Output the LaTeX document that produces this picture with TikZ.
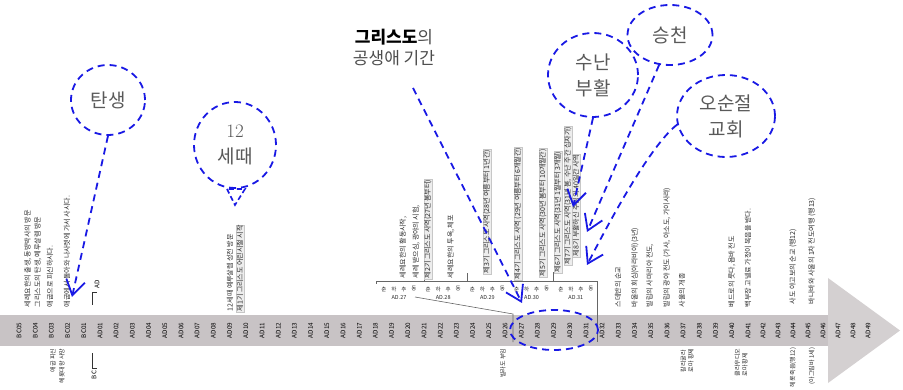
\documentclass[tikz,border=0pt]{standalone}
\usepackage{fontspec}
\newfontfamily\kr{Noto Sans CJK KR}
\usetikzlibrary{arrows.meta,shapes.geometric}
\definecolor{cblue}{RGB}{25,25,228}
\definecolor{bandgray}{RGB}{200,195,197}
\definecolor{headgray}{RGB}{212,208,209}
\definecolor{txtgray}{RGB}{40,40,40}
\begin{document}
\begin{tikzpicture}[x=1pt,y=-1pt,
  col/.style={font=\kr\fontsize{7}{8}\selectfont, text=txtgray, inner sep=0.6pt, rotate=90},
  up/.style={col, anchor=west},
  dn/.style={col, font=\kr\fontsize{6}{7.5}\selectfont, anchor=east, align=left},
  boxed/.style={fill=black!7, draw=black!22, line width=0.3pt},
  tk/.style={font=\kr\fontsize{6.3}{7}\selectfont, text=black, rotate=90, inner sep=0pt},
  small/.style={font=\kr\fontsize{5.5}{6}\selectfont, text=txtgray, inner sep=0pt},
  bub/.style={draw=cblue, line width=1.8pt, dash pattern=on 7pt off 5pt, ellipse, inner sep=0pt,
    font=\kr\fontsize{19}{26}\selectfont, text=black!65, align=center},
  lead/.style={draw=cblue, line width=1.8pt, dash pattern=on 7pt off 5pt,
    -{Straight Barb[length=15pt,width=19pt]}},
  thinl/.style={draw=black!60, line width=0.6pt}
]
\useasboundingbox (0,0) rectangle (903,390);
\clip (0,0) rectangle (903,390);

% ---- timeline arrow
\fill[bandgray] (0,315) rectangle (829,346);
\fill[headgray] (828,278) -- (900,330.5) -- (828,383) -- cycle;

\foreach \lab [count=\k from 0] in {BC05,BC04,BC03,BC02,BC01,AD01,AD02,AD03,AD04,AD05,AD06,AD07,AD08,AD09,AD10,AD11,AD12,AD13,AD14,AD15,AD16,AD17,AD18,AD19,AD20,AD21,AD22,AD23,AD24,AD25,AD26,AD27,AD28,AD29,AD30,AD31,AD32,AD33,AD34,AD35,AD36,AD37,AD38,AD39,AD40,AD41,AD42,AD43,AD44,AD45,AD46,AD47,AD48,AD49}{
  \pgfmathsetmacro\xx{\k<46 ? 19+16.2*\k : 748+15*(\k-45)}
  \node[tk] (t\k) at (\xx,330.5) {\lab};
}

% ---- BC / AD markers
\node[tk] (admark) at (97,284) {AD};
\draw[black!80, line width=0.9pt] (92,305) -- (92,292) -- (97,292);
\draw[black!80, line width=0.9pt] (92,353) -- (92,368) -- (97,368);
\node[tk] (bcmark) at (94,375) {BC};

% ---- early life texts
\node[up] (e1) at (28,308) {세례요한의 출생, 동방박사의 방문};
\node[up] (e2) at (38,308) {그리스도의 탄생, 예루살렘 방문};
\node[up] (e3) at (50,308) {애굽으로 피신하시다.};
\node[up] (e4) at (67,308) {애굽에서 돌아와 나사렛에 가서 사시다.};
\node[dn] (b1) at (53,348) {애굽 피신};
\node[dn] (b2) at (62,348) {헤롯대왕 사망};
\node[up] (e5) at (230,312) {12세때 예루살렘 성전 방문};
\node[up,boxed] (e6) at (240,312) {제1기 그리스도 어린시절 시작};

% ---- detail of public ministry
\coordinate (brL) at (376,281);
\coordinate (brR) at (597,281);
\draw[thinl] (376,284) -- (brL) -- (brR) -- (597,342);
\draw[thinl] (424,281) -- (424,273);
\draw[thinl] (467,281) -- (467,273);
\draw[thinl] (553,281) -- (553,272);
\foreach \j/\yr in {0/27,1/28,2/29,3/30,4/31}{
  \pgfmathsetmacro\cc{399+44.2*\j}
  \node[small] (yr\yr) at (\cc,298) {AD.\yr};
  \foreach \ch [count=\m] in {춘,하,추,동}
    \node[small] (s\yr\m) at (\cc+10*\m-25,289) {\ch};
}
\coordinate (zA) at (415,297);
\coordinate (zB) at (513,314);
\coordinate (zC) at (513,342);
\draw[thinl] (zA) -- (zB) -- (zC);

\node[up] (d1) at (403,279) {세례요한의 활동시작,};
\node[up] (d2) at (416,279) {세례 받으심, 광야의 시험,};
\node[up,boxed] (d3) at (428,279) {제2기 그리스도 사역(27년 봄부터)};
\node[up] (d4) at (451,279) {세례요한의 투옥, 체포};
\node[up,boxed] (d5) at (487,274) {제3기 그리스도 사역(28년 여름부터 1년간)};
\node[up,boxed] (d6) at (518,280) {제4기 그리스도 사역 (29년 여름부터 6개월간)};
\node[up,boxed] (d7) at (543,277) {제5기 그리스도 사역(30년 봄부터 10개월간)};
\node[up,boxed] (d8) at (558,273) {제6기 그리스도 사역(31년 1월부터 3개월)};
\node[up,boxed] (d9) at (568,265) {제7기 그리스도 사역(31년 봄, 수난 주간 십자가)};
\node[up,boxed] (d10) at (576,257) {제8기 부활하신 주님의 40일간 사역};
\node[dn] (b3) at (503,348) {빌라도 부임};

% ---- apostolic age
\node[up] (a1) at (618,308) {스데반의 순교};
\node[up] (a2) at (635,308) {바울의 회심(아라비아)(3년)};
\node[up] (a3) at (650,308) {빌립의 사마리아 전도,};
\node[up] (a4) at (667,308) {빌립의 광야 전도 (가사, 아소도, 가이사랴)};
\node[up] (a5) at (682,308) {사울의 개종};
\node[up] (a6) at (732,308) {베드로의 룻다, 욥바 전도};
\node[up] (a7) at (748,308) {백부장 고넬료 가정이 복음을 받다.};
\node[up] (a8) at (793,305) {사도 야고보의 순교 (행12)};
\node[up] (a9) at (812,305) {바나바와 사울의 1차 전도여행 (행13)};
\node[dn] (b4) at (687,348) {칼리굴라\\로마 황제};
\node[dn] (b5) at (741,348) {클라우디오\\로마 황제};
\node[dn] (b6) at (793,347) {헤롯 죽음(행12)};
\node[dn] (b7) at (812,347) {(아그립바 1세)};

% ---- callouts
\node[bub, minimum width=74, minimum height=70] (tan) at (108,100) {탄생};
\coordinate (tanT) at (72,297);
\draw[lead] (tan.south) -- (tanT);

\node[bub, minimum width=82, minimum height=86] (twelve) at (235,145) {{\rmfamily 12}\\세때};
\draw[cblue, line width=1.6pt, dash pattern=on 5pt off 3pt] (227,189) -- (235,205) -- (245,189) -- cycle;

\node[font=\kr\fontsize{17}{21}\selectfont, text=black!70, align=center] (gong) at (394,47)
  {{\color{black}\bfseries 그리스도}의\\공생애 기간};
\coordinate (gongS) at (413,88);
\coordinate (gongT) at (522,303);
\draw[lead] (gongS) -- (gongT);
\node[bub, minimum width=88, minimum height=40] (span) at (554,330) {};

\node[bub, minimum width=90, minimum height=84] (sunan) at (593,75) {수난\\부활};
\coordinate (sunT) at (573,207);
\draw[lead] (sunan.south) -- (sunT);

\node[bub, minimum width=85, minimum height=60] (seung) at (670,35) {승천};
\coordinate (seungT) at (587,232);
\draw[lead] (seung.250) -- (seungT);

\node[bub, minimum width=98, minimum height=82] (osun) at (726,116) {오순절\\교회};
\coordinate (osunT) at (587,265);
\draw[lead] (osun.190) .. controls (648,147) and (602,236) .. (osunT);
\end{tikzpicture}
\end{document}
